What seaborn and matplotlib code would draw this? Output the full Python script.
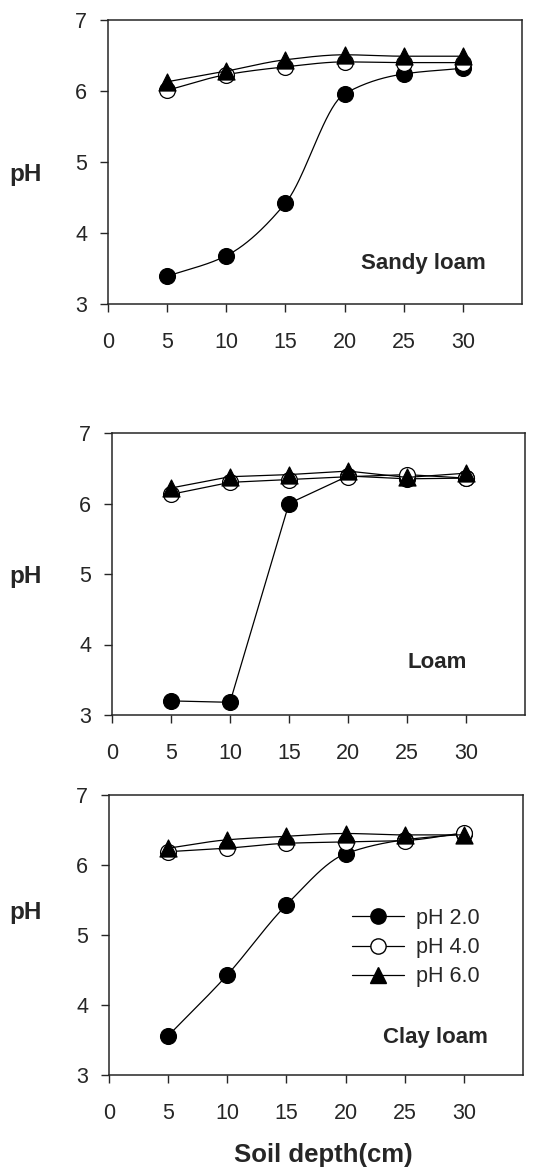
import numpy as np
import pandas as pd
import matplotlib
matplotlib.use("Agg")
import matplotlib.pyplot as plt
import seaborn as sns
from matplotlib.lines import Line2D

depth = [5, 10, 15, 20, 25, 30]
series_names = ["pH 2.0", "pH 4.0", "pH 6.0"]

sandy_ph2 = [3.39, 3.68, 4.42, 5.96, 6.24, 6.32]
sandy_ph4 = [6.01, 6.23, 6.34, 6.41, 6.40, 6.40]
sandy_ph6 = [6.13, 6.28, 6.44, 6.51, 6.49, 6.49]

loam_ph2 = [3.20, 3.18, 6.00, 6.39, 6.35, 6.36]
loam_ph4 = [6.13, 6.30, 6.34, 6.38, 6.41, 6.36]
loam_ph6 = [6.22, 6.38, 6.41, 6.46, 6.37, 6.43]

clay_ph2 = [3.56, 4.43, 5.43, 6.16, 6.36, 6.44]
clay_ph4 = [6.19, 6.24, 6.31, 6.33, 6.35, 6.46]
clay_ph6 = [6.24, 6.36, 6.41, 6.45, 6.43, 6.43]

panel_titles = ["Sandy loam", "Loam", "Clay loam"]
x_ticks = [0, 5, 10, 15, 20, 25, 30]
y_ticks = [3, 4, 5, 6, 7]

sns.set_style("ticks")
plt.rcParams['font.family'] = ['Liberation Sans', 'DejaVu Sans']


def pchip(x, y, xs):
    x = np.asarray(x, float); y = np.asarray(y, float)
    h = np.diff(x); d = np.diff(y) / h
    n = len(x); m = np.zeros(n)
    for k in range(1, n - 1):
        if d[k - 1] * d[k] > 0:
            w1 = 2 * h[k] + h[k - 1]; w2 = h[k] + 2 * h[k - 1]
            m[k] = (w1 + w2) / (w1 / d[k - 1] + w2 / d[k])
    m[0] = d[0]; m[-1] = d[-1]
    out = np.empty_like(xs)
    for i, xv in enumerate(xs):
        k = min(max(np.searchsorted(x, xv) - 1, 0), n - 2)
        t = (xv - x[k]) / h[k]
        h00 = 2*t**3 - 3*t**2 + 1; h10 = t**3 - 2*t**2 + t
        h01 = -2*t**3 + 3*t**2; h11 = t**3 - t**2
        out[i] = h00*y[k] + h10*h[k]*m[k] + h01*y[k+1] + h11*h[k]*m[k+1]
    return out


W, H = 537, 1173
fig = plt.figure(figsize=(W / 100, H / 100), dpi=100)

# [left, right, top, bottom] in pixels
boxes = [(108, 522, 20, 304), (112, 525, 433, 715), (109, 523, 795, 1075)]
data = [(sandy_ph2, sandy_ph4, sandy_ph6),
        (loam_ph2, loam_ph4, loam_ph6),
        (clay_ph2, clay_ph4, clay_ph6)]
smooth = [True, False, True]
label_pos = [(423, 264), (437, 663), (435, 1038)]
ph_y = [174, 577, 912]

styles = [dict(marker="o", facecolor="black"),
          dict(marker="o", facecolor="white"),
          dict(marker="^", facecolor="black")]

for i, (box, ser) in enumerate(zip(boxes, data)):
    l, r, t, b = box
    ax = fig.add_axes([l / W, 1 - b / H, (r - l) / W, (b - t) / H])
    for j, (vals, st) in enumerate(zip(ser, styles)):
        if smooth[i]:
            xs = np.linspace(5, 30, 200)
            ys = pchip(depth, vals, xs)
        else:
            xs = np.array(depth, float); ys = np.array(vals, float)
        sns.lineplot(x=xs, y=ys, ax=ax, color="black", lw=0.9, zorder=2 + j * 2,
                     estimator=None, sort=False)
        sns.scatterplot(x=depth, y=vals, ax=ax, marker=st["marker"],
                        s=130 if st["marker"] == "o" else 150,
                        facecolor=st["facecolor"], edgecolor="black",
                        linewidth=0.9, zorder=3 + j * 2)
    ax.set_xlim(0, 35)
    ax.set_ylim(3, 7)
    ax.set_xticks(x_ticks)
    ax.set_yticks(y_ticks)
    ax.tick_params(axis="both", direction="out", length=6, width=1,
                   labelsize=15.5)
    ax.tick_params(axis="x", pad=14.5)
    ax.tick_params(axis="y", pad=9)
    for sp in ax.spines.values():
        sp.set_visible(True)
        sp.set_linewidth(1.1)
    ax.set_xlabel("")
    ax.set_ylabel("")
    fig.text(26 / W, 1 - ph_y[i] / H, "pH", fontsize=17.5,
             fontweight="bold", ha="center", va="center")
    lx, ly = label_pos[i]
    fig.text(lx / W, 1 - ly / H, panel_titles[i], fontsize=16,
             fontweight="bold", ha="center", va="center")
    if i == 2:
        handles = [Line2D([], [], color="black", lw=0.9, marker=st["marker"],
                          markersize=11 if st["marker"] == "o" else 12,
                          markerfacecolor=st["facecolor"],
                          markeredgecolor="black")
                   for st in styles]
        ax.legend(handles, series_names, loc="upper left",
                  bbox_to_anchor=((352 - l) / (r - l), 1 - (908 - t) / (b - t)),
                  frameon=False, fontsize=15.5, handlelength=2.4,
                  handletextpad=0.55, labelspacing=0.38, borderaxespad=0,
                  borderpad=0)

fig.text(323 / W, 1 - 1155 / H, "Soil depth(cm)", fontsize=18.5,
         fontweight="bold", ha="center", va="center")

fig.savefig("out.png", dpi=100)
